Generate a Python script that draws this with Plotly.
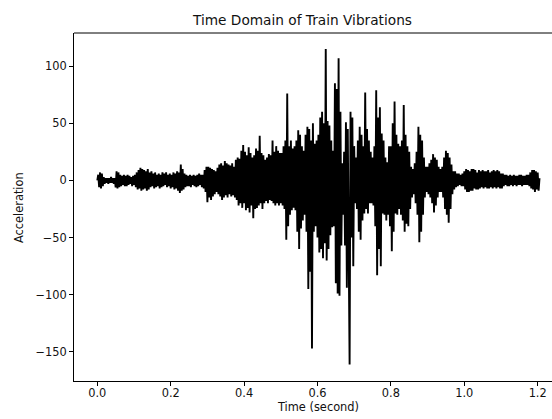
import numpy as np
import plotly.graph_objects as go

sample_interval = 0.0025  # seconds between samples
acceleration = [
    0, 5, -6, 7, -7, 6, -5, 3, -3, 2,
    -2, 2, -3, 2, -2, 3, -2, 2, -3, 2,
    -6, 8, -7, 7, -6, 5, -5, 4, -4, 5,
    -5, 4, -5, 5, -4, 4, -3, 3, -5, 4,
    -4, 5, -6, 7, -8, 9, -7, 11, -9, 10,
    -8, 9, -7, 8, -9, 10, -8, 7, -6, 8,
    -5, 6, -7, 7, -6, 5, -5, 6, -7, 5,
    -6, 7, -5, 6, -4, 7, -6, 5, -5, 6,
    -7, 5, -6, 7, -8, 6, -7, 8, -9, 7,
    -11, 14, -9, 10, -8, 6, -6, 5, -5, 4,
    -5, 5, -6, 4, -4, 5, -5, 4, -6, 5,
    -5, 6, -4, 5, -6, 5, -7, 9, -10, 12,
    -19, 12, -15, 11, -17, 10, -14, 9, -12, 8,
    -10, 11, -12, 14, -14, 15, -17, 13, -15, 17,
    -13, 15, -15, 14, -12, 13, -14, 15, -13, 12,
    -15, 18, -17, 20, -22, 19, -20, 26, -24, 31,
    -20, 25, -26, 22, -24, 29, -28, 24, -22, 20,
    -33, 22, -25, 28, -24, 26, -22, 39, -20, 24,
    -25, 22, -20, 18, -18, 20, -20, 23, -17, 22,
    -18, 35, -20, 25, -22, 30, -20, 26, -22, 24,
    -20, 24, -22, 30, -25, 35, -52, 76, -40, 30,
    -30, 35, -26, 28, -24, 30, -26, 35, -45, 44,
    -60, 40, -42, 30, -35, 26, -30, 40, -45, 47,
    -95, 45, -80, 35, -147, 50, -45, 32, -40, 35,
    -50, 40, -63, 55, -60, 60, -68, 50, -55, 115,
    -70, 52, -60, 48, -48, 35, -41, 26, -40, 85,
    -90, 80, -99, 107, -101, 60, -57, 15, -30, 25,
    -57, 51, -94, 45, -60, -161, 60, -50, 55, -75,
    30, -20, 20, -25, 35, -45, 47, -52, 40, -35,
    30, -29, 77, -25, 45, -29, 35, -20, 25, -20,
    20, -22, 30, -40, 79, -83, 55, -60, 64, -75,
    41, -29, 35, -30, 20, -35, 16, -30, 30, -40,
    30, -62, 50, -45, 69, -29, 40, -30, 32, -25,
    30, -30, 35, -35, 66, -45, 40, -38, 30, -40,
    25, -25, 12, -15, 10, -12, 15, -20, 25, -30,
    47, -54, 40, -45, 35, -30, 20, -15, 12, -10,
    12, -12, 15, -15, 18, -20, 23, -28, 20, -22,
    18, -15, 12, -10, 10, -10, 12, -15, 20, -25,
    26, -30, 24, -37, 20, -25, 14, -12, 8, -8,
    8, -6, 6, -5, 6, -4, 5, -5, 6, -5,
    8, -8, 10, -10, 9, -10, 8, -9, 10, -9,
    10, -7, 9, -8, 7, -8, 9, -7, 8, -6,
    9, -7, 8, -6, 8, -7, 9, -7, 7, -6,
    8, -7, 9, -6, 8, -7, 9, -6, 8, -7,
    6, -7, 6, -5, 5, -4, 5, -5, 4, -5,
    5, -4, 4, -5, 5, -4, 4, -5, 4, -4,
    5, -4, 5, -5, 4, -4, 4, -4, 5, -4,
    5, -5, 7, -7, 9, -8, 9, -10, 8, -8,
    7, -9, 2,
]
time_s = np.arange(len(acceleration)) * sample_interval

x_ticks = [0.0, 0.2, 0.4, 0.6, 0.8, 1.0, 1.2]
x_tick_labels = ["0.0", "0.2", "0.4", "0.6", "0.8", "1.0", "1.2"]
y_ticks = [100, 50, 0, -50, -100, -150]
y_tick_labels = ["100", "50", "0", "\u221250", "\u2212100", "\u2212150"]

title_text = "Time Domain of Train Vibrations"
x_label = "Time (second)"
y_label = "Acceleration"

FONT = "DejaVu Sans"

fig = go.Figure()
fig.add_trace(go.Scatter(
    x=time_s, y=acceleration, mode="lines",
    line=dict(color="black", width=1.9),
    hoverinfo="skip", showlegend=False,
))

fig.update_layout(
    width=552, height=419,
    margin=dict(l=74, r=0, t=33, b=38),
    paper_bgcolor="white", plot_bgcolor="white",
    font=dict(family=FONT, size=11.4, color="#111"),
    showlegend=False,
)
fig.update_xaxes(
    range=[-0.0635, 1.239],
    tickvals=x_ticks, ticktext=x_tick_labels,
    showgrid=False, zeroline=False,
    showline=True, linecolor="black", linewidth=1,
    ticks="outside", ticklen=4, tickwidth=1, tickcolor="black",
    ticklabelstandoff=-3,
    tickfont=dict(family=FONT, size=11.4, color="#111"),
)
fig.update_yaxes(
    range=[-175.5, 129],
    tickvals=y_ticks, ticktext=y_tick_labels,
    showgrid=False, zeroline=False,
    showline=True, linecolor="black", linewidth=1,
    ticks="outside", ticklen=4, tickwidth=1, tickcolor="black",
    tickfont=dict(family=FONT, size=11.4, color="#111"),
)
# top spine
fig.add_shape(type="line", xref="paper", yref="paper", x0=0, x1=1, y0=1, y1=1,
              line=dict(color="black", width=1))

fig.add_annotation(text=title_text, xref="paper", yref="paper",
                   x=0.477, y=1.037, xanchor="center", yanchor="middle",
                   showarrow=False, font=dict(family=FONT, size=13.7, color="#111"))
fig.add_annotation(text=x_label, xref="paper", yref="paper",
                   x=0.510, y=-0.075, xanchor="center", yanchor="middle",
                   showarrow=False, font=dict(family=FONT, size=11.4, color="#111"))
fig.add_annotation(text=y_label, xref="paper", yref="paper",
                   x=-0.115, y=0.497, xanchor="center", yanchor="middle",
                   textangle=-90, showarrow=False,
                   font=dict(family=FONT, size=11.4, color="#111"))

fig.write_html(
    "out.html",
    config={"displayModeBar": False},
    post_script="document.body.style.margin='0px';document.body.style.overflow='hidden';",
)
